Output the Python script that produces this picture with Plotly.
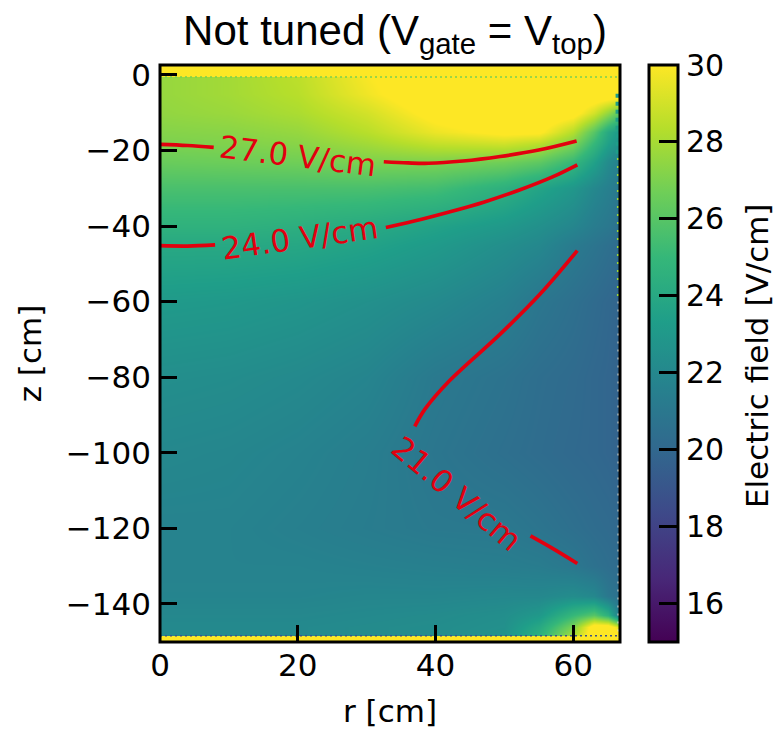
import plotly.graph_objects as go

r_grid = [0, 10, 20, 30, 40, 50, 55, 60, 63, 65, 66.8]
z_grid = [2.6, -0.5, -0.7, -5, -10, -15, -18, -23, -30, -40, -45, -60, -80, -100, -120, -130, -138, -143, -146, -148.3, -148.4, -150.1]
field = [
    [32, 32, 32, 32, 32, 32, 32, 32, 32, 32, 32],
    [32, 32, 32, 32, 32, 32, 32, 32, 32, 32, 32],
    [27.6, 27.9, 28.5, 29.9, 31, 31, 31, 31, 31, 31, 31],
    [27.6, 27.9, 28.4, 29.7, 31, 31, 31, 31, 31, 31, 31],
    [27.5, 27.7, 28.1, 29.0, 30.4, 31, 31, 30.5, 29, 27.5, 26],
    [27.2, 27.3, 27.6, 28.4, 29.6, 30.3, 30.2, 28.3, 26, 24, 23],
    [27, 27.1, 27.3, 27.9, 28.7, 29.0, 28.5, 27.1, 25, 23.5, 22.5],
    [26.5, 26.6, 26.7, 27, 27, 26.7, 26.2, 25, 23.5, 22.2, 21.5],
    [25.6, 25.6, 25.6, 25.6, 25.4, 24.5, 23.7, 22.9, 22, 21.5, 21],
    [24.6, 24.6, 24.4, 24.1, 23.6, 23, 22.5, 21.9, 21.3, 21, 20.5],
    [24, 24, 23.9, 23.6, 23.1, 22.4, 22, 21.2, 20.8, 20.5, 20.2],
    [23.1, 23, 22.8, 22.5, 22.1, 21.5, 20.9, 20.5, 20.2, 20, 19.8],
    [22.4, 22.3, 22.1, 21.8, 21.1, 20.7, 20.4, 20.2, 20, 19.9, 19.7],
    [22, 21.9, 21.7, 21.4, 20.9, 20.5, 20.3, 20.1, 20, 19.9, 19.7],
    [21.7, 21.7, 21.5, 21.3, 21.1, 21.05, 20.8, 20.5, 20.3, 20.2, 20],
    [21.7, 21.7, 21.7, 21.6, 21.5, 21.4, 21.3, 21, 20.6, 20.4, 20.2],
    [21.8, 21.8, 21.8, 21.9, 21.9, 22, 22, 22.3, 22, 21, 20.5],
    [22, 22, 22, 22.1, 22.2, 22.4, 23, 25, 26, 24.5, 21],
    [22.1, 22.1, 22.1, 22.2, 22.3, 22.5, 24, 27, 31, 31, 29],
    [22.1, 22.1, 22.1, 22.2, 22.3, 22.6, 24.5, 28, 31, 31, 30],
    [32, 32, 32, 32, 32, 32, 32, 32, 32, 32, 32],
    [32, 32, 32, 32, 32, 32, 32, 32, 32, 32, 32],
]

c27_a_r = [0, 4, 7.8]
c27_a_z = [-18.4, -18.7, -19.2]
c27_b_r = [32.5, 36, 39, 44, 49.4, 55, 60.5]
c27_b_z = [-23, -23.3, -23.4, -22.8, -21.6, -19.9, -17.5]
c24_a_r = [0, 4, 8]
c24_a_z = [-45.2, -45.3, -45]
c24_b_r = [32.8, 38, 42, 47, 52.3, 57, 60.6]
c24_b_z = [-40.4, -38.2, -36.3, -33.7, -30.4, -27, -23.8]
c21_a_r = [60.6, 55.2, 49.4, 42, 38.5, 37]
c21_a_z = [-46.5, -58, -68.6, -81, -88.4, -93]
c21_b_r = [53.8, 57, 60.6]
c21_b_z = [-122, -125.3, -129.3]

label_texts = ["27.0 V/cm", "24.0 V/cm", "21.0 V/cm"]
label_r = [20, 20.3, 43.2]
label_z = [-21.4, -43.3, -110.8]
label_angle = [7, -8, 40]

r_ticks = [0, 20, 40, 60]
z_ticks = [0, -20, -40, -60, -80, -100, -120, -140]
cb_ticks = [16, 18, 20, 22, 24, 26, 28, 30]

RED = "#e2000f"
FONT = "DejaVu Sans"

fig = go.Figure()
fig.add_trace(go.Heatmap(
    x=r_grid, y=z_grid, z=field, zmin=15, zmax=30, zsmooth="best",
    colorscale="Viridis", hoverinfo="skip",
    colorbar=dict(
        thickness=29, len=1.0, lenmode="fraction", x=1.062, xanchor="left", xpad=0, ypad=0,
        outlinecolor="black", outlinewidth=3, ticks="inside", ticklen=20, tickwidth=3,
        tickcolor="black", tickvals=cb_ticks, tickprefix="\u200a\u200a",
        tickfont=dict(family=FONT, size=30, color="black"),
    ),
))

for rs, zs in [(c27_a_r, c27_a_z), (c27_b_r, c27_b_z), (c24_a_r, c24_a_z), (c24_b_r, c24_b_z),
               (c21_a_r, c21_a_z), (c21_b_r, c21_b_z)]:
    fig.add_trace(go.Scatter(x=rs, y=zs, mode="lines", line=dict(color=RED, width=3.7, shape="spline"),
                             showlegend=False, hoverinfo="skip"))

# dotted mesh-edge artefacts
for xs, ys, col, w, dash in [
    ([66.45, 66.45], [-5, -22], "#1f9e89", 4, "4px,4px"),
    ([66.5, 66.5], [-22, -60], "#a0da39", 2, "2px,6px"),
    ([66.55, 66.55], [-60, -149], "#e8e8d8", 1.5, "2px,6px"),
    ([0, 66.8], [-148.4, -148.4], "#3b528b", 1.5, "2px,3px"),
    ([0, 66.8], [-0.6, -0.6], "#7ad151", 1.5, "2px,3px"),
]:
    fig.add_trace(go.Scatter(x=xs, y=ys, mode="lines", line=dict(color=col, width=w, dash=dash),
                             showlegend=False, hoverinfo="skip"))

annos = [dict(x=x, y=y, text=t, textangle=a, showarrow=False, font=dict(family=FONT, size=31, color=RED))
         for t, x, y, a in zip(label_texts, label_r, label_z, label_angle)]
annos.append(dict(x=(757 - 159.5) / 460.5, y=0.497, xref="paper", yref="paper", xanchor="center", yanchor="middle",
                  text="Electric field [V/cm]", textangle=-90, showarrow=False,
                  font=dict(family=FONT, size=31, color="black")))

axis_common = dict(showline=False, ticks="inside", ticklen=17, automargin=False,
                   tickwidth=3, tickcolor="black", showgrid=False, zeroline=False,
                   tickfont=dict(family=FONT, size=31, color="black"))

fig.update_layout(
    width=774, height=730, autosize=False,
    margin=dict(l=159.5, r=154, t=64.5, b=87.7),
    paper_bgcolor="white", plot_bgcolor="white", showlegend=False,
    title=dict(text="Not tuned (V<sub>gate</sub> = V<sub>top</sub>)", x=395 / 774, xanchor="center",
               y=1 - 30 / 730, yanchor="middle", font=dict(family="Liberation Sans", size=42, color="black")),
    xaxis=dict(range=[0, 66.8], tickvals=r_ticks, ticklabelstandoff=2,
               title=dict(text="r [cm]", font=dict(family=FONT, size=31, color="black"), standoff=18), **axis_common),
    yaxis=dict(range=[-150.06, 2.6], tickvals=z_ticks, ticklabelstandoff=8,
               title=dict(text="z [cm]", font=dict(family=FONT, size=31, color="black"), standoff=14), **axis_common),
    annotations=annos,
    shapes=[dict(type="rect", xref="paper", yref="paper", x0=0, x1=1, y0=0, y1=1,
                 line=dict(color="black", width=3), fillcolor="rgba(0,0,0,0)", layer="above")],
)

fig.write_html("out.html", config={"displayModeBar": False},
               post_script="document.documentElement.style.overflow='hidden';document.body.style.overflow='hidden';document.body.style.margin='0';")
